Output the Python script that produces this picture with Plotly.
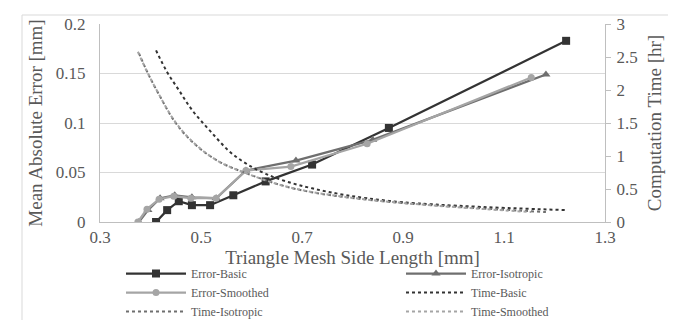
import plotly.graph_objects as go

# Error-Basic
basic_x = [0.411, 0.433, 0.456, 0.482, 0.518, 0.564, 0.628, 0.720, 0.872, 1.223]
basic_err = [0.000, 0.012, 0.021, 0.017, 0.017, 0.027, 0.041, 0.058, 0.095, 0.183]
basic_time = [2.60, 2.27, 2.00, 1.70, 1.38, 1.02, 0.73, 0.51, 0.32, 0.18]

# Error-Isotropic
iso_x = [0.377, 0.395, 0.419, 0.448, 0.482, 0.530, 0.589, 0.688, 0.840, 1.183]
iso_err = [0.000, 0.012, 0.024, 0.027, 0.025, 0.024, 0.052, 0.062, 0.083, 0.149]
iso_time = [2.56, 2.25, 1.90, 1.52, 1.22, 0.94, 0.74, 0.50, 0.33, 0.15]

# Error-Smoothed
sm_x = [0.375, 0.393, 0.417, 0.446, 0.480, 0.530, 0.589, 0.678, 0.829, 1.154]
sm_err = [0.000, 0.013, 0.023, 0.026, 0.024, 0.024, 0.052, 0.056, 0.079, 0.146]
sm_time = [2.58, 2.28, 1.93, 1.55, 1.24, 0.94, 0.74, 0.52, 0.34, 0.15]

x_ticks = [0.3, 0.5, 0.7, 0.9, 1.1, 1.3]
err_ticks = [0, 0.05, 0.1, 0.15, 0.2]
time_ticks = [0, 0.5, 1, 1.5, 2, 2.5, 3]

FONT = "Liberation Serif"
TXT = "#595959"

fig = go.Figure()

fig.add_trace(go.Scatter(x=basic_x, y=basic_err, name="Error-Basic", mode="lines+markers",
                         line=dict(color="#333333", width=2.25),
                         marker=dict(symbol="square", size=8, color="#333333"), legend="legend"))
fig.add_trace(go.Scatter(x=iso_x, y=iso_err, name="Error-Isotropic", mode="lines+markers",
                         line=dict(color="#6f6f6f", width=2.25),
                         marker=dict(symbol="triangle-up", size=8, color="#6f6f6f"), legend="legend2"))
fig.add_trace(go.Scatter(x=sm_x, y=sm_err, name="Error-Smoothed", mode="lines+markers",
                         line=dict(color="#a5a5a5", width=2.25),
                         marker=dict(symbol="circle", size=7, color="#a5a5a5"), legend="legend"))
fig.add_trace(go.Scatter(x=basic_x, y=basic_time, name="Time-Basic", mode="lines", yaxis="y2",
                         line=dict(color="#333333", width=2, dash="dot", shape="spline"), legend="legend2"))
fig.add_trace(go.Scatter(x=iso_x, y=iso_time, name="Time-Isotropic", mode="lines", yaxis="y2",
                         line=dict(color="#6f6f6f", width=2, dash="dot", shape="spline"), legend="legend"))
fig.add_trace(go.Scatter(x=sm_x, y=sm_time, name="Time-Smoothed", mode="lines", yaxis="y2",
                         line=dict(color="#a5a5a5", width=2, dash="dot", shape="spline"), legend="legend2"))

legend_common = dict(orientation="v", xref="paper", yref="paper", xanchor="left",
                     yanchor="top", font=dict(family=FONT, size=12, color=TXT),
                     tracegroupgap=0, itemwidth=60, bgcolor="rgba(0,0,0,0)", borderwidth=0)

fig.update_layout(
    width=676, height=320,
    margin=dict(l=92, r=79, t=16, b=106, autoexpand=False),
    paper_bgcolor="white", plot_bgcolor="white",
    font=dict(family=FONT, color=TXT, size=16),
    xaxis=dict(range=[0.3, 1.3], tickvals=x_ticks, ticktext=[str(v) for v in x_ticks],
               showgrid=False, zeroline=False, showline=True, linecolor="#bfbfbf", linewidth=1,
               ticks="", tickfont=dict(family=FONT, size=17, color=TXT), automargin=False,
               title=dict(text="Triangle Mesh Side Length [mm]", font=dict(family=FONT, size=19, color=TXT), standoff=0)),
    yaxis=dict(range=[0, 0.2], tickvals=err_ticks, ticktext=["0", "0.05", "0.1", "0.15", "0.2"],
               showgrid=True, gridcolor="#d9d9d9", gridwidth=1, zeroline=False,
               showline=True, linecolor="#bfbfbf", ticks="", ticklabelstandoff=10, automargin=False,
               tickfont=dict(family=FONT, size=17, color=TXT),
               title=dict(text="Mean Absolute Error [mm]", font=dict(family=FONT, size=19, color=TXT), standoff=8)),
    yaxis2=dict(range=[0, 3], tickvals=time_ticks, ticktext=["0", "0.5", "1", "1.5", "2", "2.5", "3"],
                overlaying="y", side="right", showgrid=False, zeroline=False,
                showline=True, linecolor="#bfbfbf", ticks="outside", ticklen=5, tickcolor="#bfbfbf",
                ticklabelstandoff=2, automargin=False,
                tickfont=dict(family=FONT, size=17, color=TXT),
                title=dict(text="Computation Time [hr]", font=dict(family=FONT, size=19, color=TXT), standoff=11)),
    legend=dict(x=(113-92)/505, y=(214-251)/198, **legend_common),
    legend2=dict(x=(393-92)/505, y=(214-251)/198, **legend_common),
    shapes=[dict(type="rect", xref="paper", yref="paper",
                 x0=(14-92)/505, x1=(672-92)/505, y0=-0.7, y1=1+(16-7)/198,
                 line=dict(color="#d9d9d9", width=1), fillcolor="rgba(0,0,0,0)", layer="below")],
)

fig.write_html("out.html")
